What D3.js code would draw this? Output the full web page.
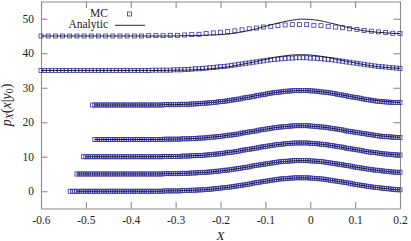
<!DOCTYPE html>
<html lang="en">
<head>
<meta charset="utf-8">
<title>MC vs analytic</title>
<script src="https://cdn.jsdelivr.net/npm/d3@7"></script>
<style>
  body { margin: 0; background: #fff; }
  text { font-family: "Liberation Serif", "Times New Roman", serif; }
</style>
</head>
<body>
<div id="drawing"></div>
<script>
// y0 values, each curve sits on its own offset
var offsets = [0, 5, 10, 15, 25, 35, 45];

// MC samples: first x and sample step of each series
var mcStart = [-0.535, -0.52, -0.505, -0.48, -0.485, -0.6, -0.6];
var mcStep = [0.005, 0.005, 0.005, 0.005, 0.005, 0.008, 0.016];

// MC values above the offset
var mc0 = [0,0,0,0,0,0,0,0,0,0, 0,0,0,0,0,0,0,0,0,0, 0,0,0,0,0,0,0,0,0,0, 0,0,0,0,0,0,0,0,0,0, 0,0,
  0.1,0.1,0.1,0.1,0.1,0.1,0.1,0.1,0.2,0.2,0.2,0.2,0.3,0.3,0.3,0.4,0.4,0.4,0.5,0.5,0.6,0.6,0.7,0.8,0.8,0.9,1.0,1.1,1.1,1.2,1.3,1.4,1.5,1.6,1.7,1.8,1.9,2.0,2.1,2.3,2.4,2.5,2.6,2.7,2.8,2.9,3.0,3.1,3.2,3.3,3.4,3.5,3.6,3.6,3.7,3.7,3.8,3.8,3.9,3.9,3.9,
  3.9,
  3.9,3.9,3.9,3.8,3.8,3.7,3.7,3.6,3.6,3.5,3.4,3.3,3.2,3.1,3.0,2.9,2.8,2.7,2.6,2.5,2.4,2.3,2.1,2.0,1.9,1.8,1.7,1.6,1.5,1.4,1.3,1.2,1.1,1.1,1.0,0.9,0.8,0.8,0.7,0.6,0.6,0.5,0.5,0.4];
var mc5 = [0,0,0,0,0,0,0,0,0,0, 0,0,0,0,0,0,0,0,0,0, 0,0,0,0,0,0,0,0,0,0, 0,0,0,0,0,0,0,0,0,
  0.1,0.1,0.1,0.1,0.1,0.1,0.1,0.1,0.2,0.2,0.2,0.2,0.3,0.3,0.3,0.4,0.4,0.4,0.5,0.5,0.6,0.6,0.7,0.8,0.8,0.9,1.0,1.1,1.1,1.2,1.3,1.4,1.5,1.6,1.7,1.8,1.9,2.0,2.1,2.3,2.4,2.5,2.6,2.7,2.8,2.9,3.0,3.1,3.2,3.3,3.4,3.5,3.6,3.6,3.7,3.7,3.8,3.8,3.9,3.9,3.9,
  3.9,
  3.9,3.9,3.9,3.8,3.8,3.7,3.7,3.6,3.6,3.5,3.4,3.3,3.2,3.1,3.0,2.9,2.8,2.7,2.6,2.5,2.4,2.3,2.1,2.0,1.9,1.8,1.7,1.6,1.5,1.4,1.3,1.2,1.1,1.1,1.0,0.9,0.8,0.8,0.7,0.6,0.6,0.5,0.5,0.5];
var mc10 = [0,0,0,0,0,0,0,0,0,0, 0,0,0,0,0,0,0,0,0,0, 0,0,0,0,0,0,0,0,0,0, 0,0,0,0,0,0,
  0.1,0.1,0.1,0.1,0.1,0.1,0.1,0.1,0.2,0.2,0.2,0.2,0.3,0.3,0.3,0.4,0.4,0.4,0.5,0.5,0.6,0.7,0.7,0.8,0.8,0.9,1.0,1.1,1.2,1.3,1.3,1.4,1.5,1.6,1.8,1.9,2.0,2.1,2.2,2.3,2.4,2.5,2.7,2.8,2.9,3.0,3.1,3.2,3.3,3.4,3.5,3.6,3.6,3.7,3.8,3.8,3.9,3.9,4.0,4.0,4.0,
  4.0,
  4.0,4.0,4.0,3.9,3.9,3.8,3.8,3.7,3.6,3.6,3.5,3.4,3.3,3.2,3.1,3.0,2.9,2.8,2.7,2.5,2.4,2.3,2.2,2.1,2.0,1.9,1.8,1.6,1.5,1.4,1.3,1.3,1.2,1.1,1.0,0.9,0.8,0.8,0.7,0.7,0.6,0.6,0.5,0.5];
var mc15 = [0,0,0,0,0,0,0,0,0,0, 0,0,0,0,0,0,0,0,0,0, 0,0,0,0,0,0,0,0,0,0, 0,
  0.1,0.1,0.1,0.1,0.1,0.1,0.1,0.1,0.2,0.2,0.2,0.2,0.3,0.3,0.3,0.4,0.4,0.4,0.5,0.5,0.6,0.7,0.7,0.8,0.8,0.9,1.0,1.1,1.2,1.3,1.3,1.4,1.5,1.6,1.8,1.9,2.0,2.1,2.2,2.3,2.4,2.5,2.7,2.8,2.9,3.0,3.1,3.2,3.3,3.4,3.5,3.6,3.6,3.7,3.8,3.8,3.9,3.9,4.0,4.0,4.0,
  4.0,
  4.0,4.0,4.0,3.9,3.9,3.8,3.8,3.7,3.6,3.6,3.5,3.4,3.3,3.2,3.1,3.0,2.9,2.8,2.7,2.5,2.4,2.3,2.2,2.1,2.0,1.9,1.8,1.7,1.6,1.5,1.4,1.3,1.2,1.1,1.0,0.9,0.9,0.8,0.8,0.7,0.7,0.6,0.6,0.6];
var mc25 = [0,0,0,0,0,0,0,0,0,0, 0,0,0,0,0,0,0,0,0,0, 0,0,0,0,0,0,0,0,0,0, 0,0,
  0.1,0.1,0.1,0.1,0.1,0.1,0.1,0.2,0.2,0.2,0.2,0.2,0.3,0.3,0.3,0.4,0.4,0.5,0.5,0.6,0.6,0.7,0.7,0.8,0.9,1.0,1.0,1.1,1.2,1.3,1.4,1.5,1.6,1.7,1.8,2.0,2.1,2.2,2.3,2.4,2.5,2.7,2.8,2.9,3.0,3.1,3.3,3.4,3.5,3.6,3.7,3.7,3.8,3.9,4.0,4.0,4.1,4.1,4.2,4.2,4.2,
  4.2,
  4.2,4.2,4.2,4.1,4.1,4.0,4.0,3.9,3.8,3.7,3.7,3.6,3.5,3.4,3.3,3.1,3.0,2.9,2.8,2.7,2.5,2.4,2.3,2.2,2.1,2.0,1.8,1.7,1.6,1.5,1.4,1.3,1.2,1.1,1.0,1.0,0.9,0.9,0.8,0.8,0.7,0.7,0.7,0.7];
var mc35 = [0,0,0,0,0,0,0,0,0,0, 0,0,0,0,0,0,0,0,0,0, 0,0,0,0,0,0,0,0,0,0, 0,
  0.1,0.1,0.1,0.1,0.1,0.1,0.2,0.2,0.2,0.3,0.3,0.4,0.5,0.5,0.6,0.7,0.8,0.9,1.0,1.1,1.2,1.3,1.5,1.6,1.8,1.9,2.1,2.2,2.4,2.5,2.7,2.8,3.0,3.1,3.2,3.3,3.4,3.5,3.6,3.6,3.7,3.7,
  3.7,3.7,3.6,3.6,3.5,3.4,3.3,3.2,3.1,3.0,2.8,2.7,2.5,2.4,2.2,2.1,1.9,1.8,1.6,1.5,1.3,1.2,1.1,1.0,0.9,0.8,0.7,0.6];
var mc45 = [0,0,0,0,0,0,0,0,0,0, 0,0,0,0,0,
  0.1,0.1,0.1,0.2,0.2,0.3,0.4,0.5,0.7,0.9,1.1,1.3,1.5,1.8,2.1,2.3,2.6,2.8,3.0,3.2,3.3,3.3,3.3,3.1,3.0,2.8,2.6,2.4,2.1,1.9,1.6,1.4,1.2,1.0,0.8,0.7];

// analytic curve, sampled every 0.02 from -0.6 (null = outside support)
var anStart = -0.6, anStep = 0.02;
var an0 = [null,null,null,null, 0,0,0,0,0,0,0,0,0,0,
  0.1,0.1,0.2,0.3,0.4,0.6,0.9,1.2,1.6,2.0,2.5,2.9,3.3,3.6,3.8,3.9,3.8,3.6,3.3,2.9,2.5,2.0,1.6,1.2,0.9,0.6,0.4];
var an5 = [null,null,null,null, 0,0,0,0,0,0,0,0,0,0,
  0.1,0.1,0.2,0.3,0.4,0.6,0.9,1.2,1.6,2.0,2.5,2.9,3.3,3.6,3.8,3.9,3.8,3.6,3.3,2.9,2.5,2.0,1.6,1.2,0.9,0.6,0.5];
var an10 = [null,null,null,null,null, 0,0,0,0,0,0,0,0,0,
  0.1,0.1,0.2,0.3,0.4,0.7,0.9,1.3,1.6,2.1,2.5,3.0,3.4,3.7,3.9,4.0,3.9,3.7,3.4,3.0,2.5,2.1,1.6,1.3,0.9,0.7,0.5];
var an15 = [null,null,null,null,null,null, 0,0,0,0,0,0,0,0,
  0.1,0.1,0.2,0.3,0.4,0.7,0.9,1.3,1.6,2.1,2.5,3.0,3.4,3.7,3.9,4.0,3.9,3.7,3.4,3.0,2.5,2.1,1.7,1.3,1.0,0.8,0.6];
var an25 = [null,null,null,null,null,null, 0,0,0,0,0,0,0,0,
  0.1,0.1,0.2,0.3,0.5,0.7,1.0,1.3,1.7,2.2,2.7,3.1,3.6,3.9,4.1,4.2,4.1,3.9,3.6,3.1,2.7,2.2,1.7,1.4,1.1,0.9,0.7];
var an35 = [0,0,0,0,0,0,0,0,0,0,0,0,0,0,0,
  0.1,0.1,0.2,0.3,0.5,0.8,1.1,1.6,2.1,2.6,3.2,3.8,4.2,4.5,4.6,4.5,4.2,3.8,3.2,2.7,2.2,1.7,1.3,1.0,0.8,0.6];
var an45 = [0,0,0,0,0,0,0,0,0,0,0,0,0,0,0,0,
  0.1,0.1,0.2,0.3,0.4,0.6,1.0,1.5,2.1,2.8,3.5,4.1,4.6,4.9,4.8,4.5,3.9,3.3,2.6,2.0,1.5,1.2,1.0,0.8,0.7];

var xTicks = [-0.6, -0.5, -0.4, -0.3, -0.2, -0.1, 0, 0.1, 0.2];
var xTickLabels = ['-0.6', '-0.5', '-0.4', '-0.3', '-0.2', '-0.1', '0', '0.1', '0.2'];
var yTicks = [0, 10, 20, 30, 40, 50];
var legendLabels = ['MC', 'Analytic'];

var mcSeries = [mc0, mc5, mc10, mc15, mc25, mc35, mc45];
var anSeries = [an0, an5, an10, an15, an25, an35, an45];

var W = 411, H = 241;
var plotLeft = 41, plotRight = 400, plotTop = 1.5, plotBottom = 208.5;
var frameColor = '#8c8c8c';
var markColor = '#3535b0';

var svg = d3.select('#drawing').append('svg').attr('width', W).attr('height', H);

var x = d3.scaleLinear().domain([-0.6, 0.2]).range([plotLeft, plotRight]);
var y = d3.scaleLinear().domain([-5, 55]).range([plotBottom, plotTop]);

// frame with inward ticks on all four sides
function styleAxis(g) {
  g.selectAll('path.domain').attr('stroke', frameColor).attr('stroke-width', 1.1);
  g.selectAll('.tick line').attr('stroke', frameColor).attr('stroke-width', 1.1);
  g.selectAll('.tick text').attr('fill', '#222').attr('font-size', 11.5)
    .attr('font-family', '"Liberation Serif", serif');
}

svg.append('g').attr('transform', 'translate(0,' + plotBottom + ')')
  .call(d3.axisBottom(x).tickValues(xTicks).tickFormat(function(d, i) { return xTickLabels[i]; })
    .tickSizeInner(-6.5).tickSizeOuter(0).tickPadding(7.5))
  .call(styleAxis);
svg.append('g').attr('transform', 'translate(0,' + plotTop + ')')
  .call(d3.axisTop(x).tickValues(xTicks).tickFormat('').tickSizeInner(-6.5).tickSizeOuter(0))
  .call(styleAxis);
svg.append('g').attr('transform', 'translate(' + plotLeft + ',0)')
  .call(d3.axisLeft(y).tickValues(yTicks).tickFormat(d3.format('d'))
    .tickSizeInner(-6.5).tickSizeOuter(0).tickPadding(7))
  .call(styleAxis);
svg.append('g').attr('transform', 'translate(' + plotRight + ',0)')
  .call(d3.axisRight(y).tickValues(yTicks).tickFormat('').tickSizeInner(-6.5).tickSizeOuter(0))
  .call(styleAxis);

var sq = 4;

// MC squares
mcSeries.forEach(function(vals, s) {
  var pts = vals.map(function(v, i) {
    return { x: mcStart[s] + i * mcStep[s], y: offsets[s] + v };
  });
  svg.append('g').selectAll('rect').data(pts).enter().append('rect')
    .attr('x', function(d) { return x(d.x) - sq / 2; })
    .attr('y', function(d) { return y(d.y) - sq / 2; })
    .attr('width', sq).attr('height', sq)
    .attr('fill', 'none').attr('stroke', markColor).attr('stroke-width', 0.8);
});

// analytic lines
var line = d3.line()
  .defined(function(d) { return d.y != null; })
  .x(function(d) { return x(d.x); })
  .y(function(d) { return y(d.y); })
  .curve(d3.curveMonotoneX);

anSeries.forEach(function(vals, s) {
  var pts = vals.map(function(v, i) {
    return { x: anStart + i * anStep, y: v == null ? null : offsets[s] + v };
  });
  svg.append('path').datum(pts).attr('d', line)
    .attr('fill', 'none').attr('stroke', '#111').attr('stroke-width', 0.9);
});

// key
var key = svg.append('g');
key.append('text').attr('x', 108).attr('y', 17).attr('text-anchor', 'end')
  .attr('font-size', 11.5).attr('fill', '#222').text(legendLabels[0]);
key.append('rect').attr('x', 129.5 - sq / 2).attr('y', 14 - sq / 2).attr('width', sq).attr('height', sq)
  .attr('fill', 'none').attr('stroke', markColor).attr('stroke-width', 0.8);
key.append('text').attr('x', 108).attr('y', 28).attr('text-anchor', 'end')
  .attr('font-size', 11.5).attr('fill', '#222').text(legendLabels[1]);
key.append('line').attr('x1', 115).attr('x2', 145).attr('y1', 25.3).attr('y2', 25.3)
  .attr('stroke', '#111').attr('stroke-width', 0.9);

// axis titles
var yl = svg.append('text').attr('transform', 'translate(10.5,' + ((plotTop + plotBottom) / 2) + ') rotate(-90)')
  .attr('text-anchor', 'middle').attr('font-size', 14).attr('fill', '#222');
yl.append('tspan').attr('font-style', 'italic').text('p');
yl.append('tspan').attr('font-style', 'italic').attr('font-size', 10).attr('dy', 2.5).text('X');
yl.append('tspan').attr('dy', -2.5).text('(');
yl.append('tspan').attr('font-style', 'italic').text('x');
yl.append('tspan').text('|');
yl.append('tspan').attr('font-style', 'italic').text('y');
yl.append('tspan').attr('font-size', 10).attr('dy', 2.5).text('0');
yl.append('tspan').attr('dy', -2.5).text(')');

svg.append('text').attr('x', (plotLeft + plotRight) / 2).attr('y', 239.5).attr('text-anchor', 'middle')
  .attr('font-size', 13).attr('font-style', 'italic').attr('fill', '#222').text('X');
</script>
</body>
</html>
